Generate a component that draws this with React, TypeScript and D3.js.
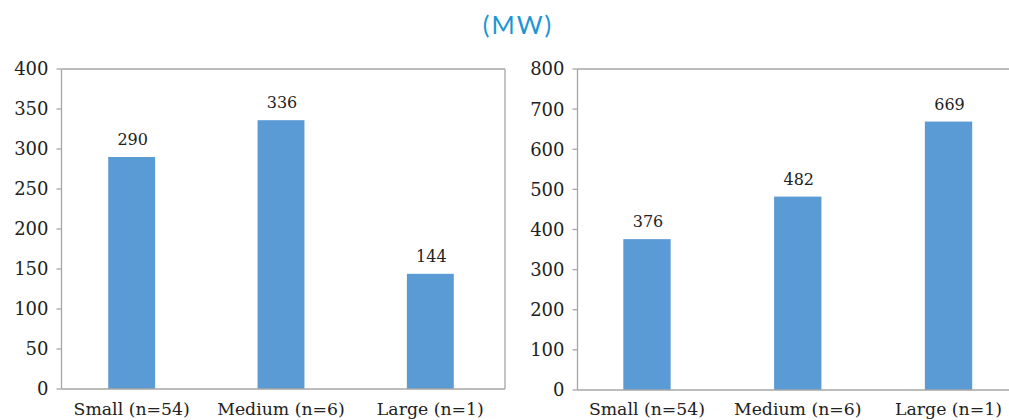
import React from "react";
import * as d3 from "d3";

// Category labels shared by both panels
const categories = ["Small (n=54)", "Medium (n=6)", "Large (n=1)"];

// Left panel values (MW)
const leftValues = [290, 336, 144];
const leftTicks = [0, 50, 100, 150, 200, 250, 300, 350, 400];

// Right panel values (MW)
const rightValues = [376, 482, 669];
const rightTicks = [0, 100, 200, 300, 400, 500, 600, 700, 800];

const unitLabel = "(MW)";

const BAR = "#5b9bd5";
const AXIS = "#a6a6a6";
const TEXT = "#222222";
const TITLE = "#1e95d3";
const SERIF = "'DejaVu Serif', 'Liberation Serif', serif";

type PanelProps = {
  values: number[];
  ticks: number[];
  max: number;
  axisX: number;
  bandStart: number;
  bandEnd: number;
  frameRight: number;
  top: number;
  bottom: number;
};

function Panel({ values, ticks, max, axisX, bandStart, bandEnd, frameRight, top, bottom }: PanelProps) {
  const y = d3.scaleLinear().domain([0, max]).range([bottom, top]);
  const x = d3
    .scaleBand<string>()
    .domain(categories)
    .range([bandStart, bandEnd])
    .paddingInner(0.686)
    .paddingOuter(0.343);
  const bw = x.bandwidth();

  return (
    <g>
      {/* frame: top and right edges */}
      <line x1={axisX} x2={frameRight} y1={top} y2={top} stroke={AXIS} strokeWidth={1.3} />
      <line x1={frameRight} x2={frameRight} y1={top} y2={bottom} stroke={AXIS} strokeWidth={1.3} />

      {/* bars */}
      {values.map((v, i) => (
        <rect
          key={categories[i]}
          x={x(categories[i])!}
          y={y(v)}
          width={bw}
          height={y(0) - y(v)}
          fill={BAR}
        />
      ))}

      {/* value labels */}
      {values.map((v, i) => (
        <text
          key={"v" + i}
          x={x(categories[i])! + bw / 2 + 1}
          y={y(v) - 12}
          textAnchor="middle"
          fontFamily={SERIF}
          fontSize={16}
          fill={TEXT}
        >
          {v}
        </text>
      ))}

      {/* y axis */}
      <line x1={axisX} x2={axisX} y1={top} y2={bottom} stroke={AXIS} strokeWidth={1.3} />
      {ticks.map((t) => (
        <g key={"t" + t}>
          <line x1={axisX - 5} x2={axisX} y1={y(t)} y2={y(t)} stroke={AXIS} strokeWidth={1.3} />
          <text
            x={axisX - 13}
            y={y(t)}
            dy="0.36em"
            textAnchor="end"
            fontFamily={SERIF}
            fontSize={18}
            fill={TEXT}
          >
            {t}
          </text>
        </g>
      ))}

      {/* x axis */}
      <line x1={axisX} x2={frameRight} y1={bottom} y2={bottom} stroke={AXIS} strokeWidth={1.3} />
      {categories.map((c) => (
        <text
          key={c}
          x={x(c)! + bw / 2}
          y={415}
          textAnchor="middle"
          fontFamily={SERIF}
          fontSize={17.3}
          fill={TEXT}
        >
          {c}
        </text>
      ))}
    </g>
  );
}

export default function App() {
  return (
    <svg
      width={1009}
      height={420}
      style={{ position: "absolute", left: 0, top: 0, background: "#ffffff" }}
    >
      <text
        x={518}
        y={34}
        textAnchor="middle"
        fontFamily="Lato, 'Open Sans', sans-serif"
        fontSize={25}
        letterSpacing={2}
        fill={TITLE}
      >
        {unitLabel}
      </text>
      <Panel
        values={leftValues}
        ticks={leftTicks}
        max={400}
        axisX={61.5}
        bandStart={57}
        bandEnd={505}
        frameRight={505}
        top={69}
        bottom={389}
      />
      <Panel
        values={rightValues}
        ticks={rightTicks}
        max={800}
        axisX={577.5}
        bandStart={571.6}
        bandEnd={1023.9}
        frameRight={1024}
        top={69}
        bottom={390}
      />
    </svg>
  );
}
